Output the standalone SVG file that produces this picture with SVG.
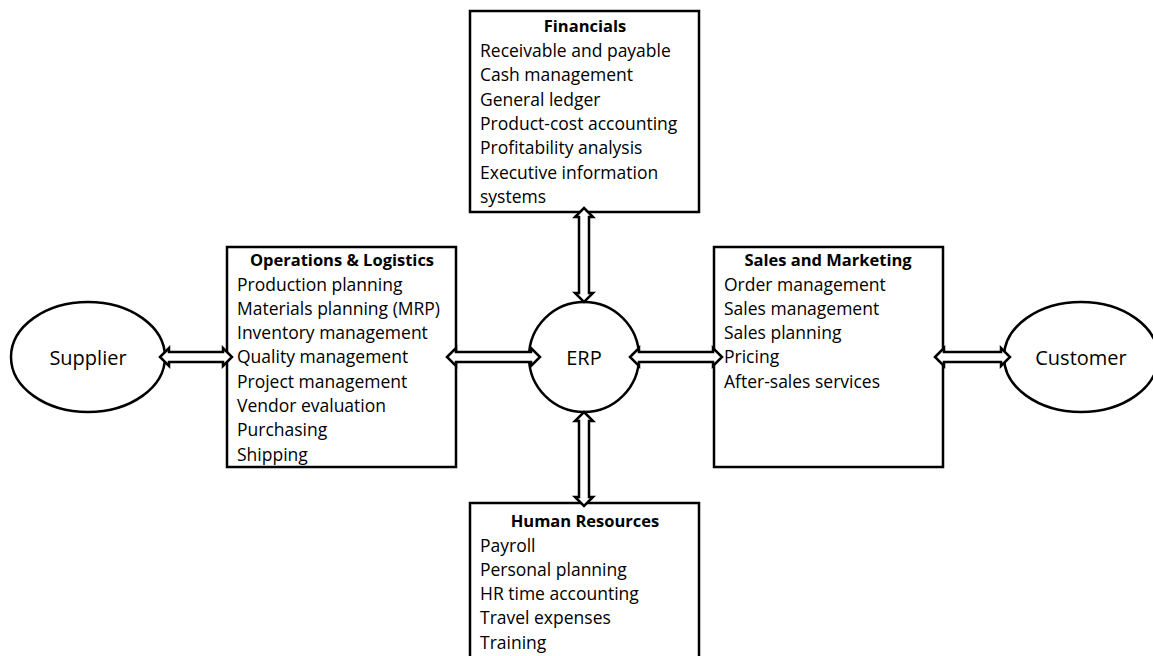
<svg xmlns="http://www.w3.org/2000/svg" width="1153" height="656" viewBox="0 0 1153 656">
  <style>
    .box { fill: #fff; stroke: #000; stroke-width: 2.5; }
    .oval { fill: #fff; stroke: #000; stroke-width: 2.5; }
    .arrow { fill: #fff; stroke: #000; stroke-width: 2.5; stroke-linejoin: miter; }
    text { font-family: "Open Sans", "Noto Sans", sans-serif; fill: #000; }
    .item { font-size: 17.5px; }
    .title { font-size: 16.5px; font-weight: bold; text-anchor: middle; }
    .label { font-size: 20px; text-anchor: middle; dominant-baseline: central; }
  </style>
  <rect width="1153" height="656" fill="#fff"/>

  <g id="supplier">
    <ellipse class="oval" cx="88" cy="357" rx="77" ry="55"/>
    <text class="label" x="88" y="357">Supplier</text>
  </g>

  <g id="customer">
    <ellipse class="oval" cx="1081" cy="357" rx="77" ry="55"/>
    <text class="label" x="1081" y="357">Customer</text>
  </g>

  <g id="erp">
    <circle class="oval" cx="584" cy="357" r="55"/>
    <text class="label" x="584" y="357">ERP</text>
  </g>

  <g id="financials">
    <rect class="box" x="470" y="11" width="229" height="201"/>
    <text class="title" x="585" y="32">Financials</text>
    <text class="item" x="480" y="57">Receivable and payable</text>
    <text class="item" x="480" y="81">Cash management</text>
    <text class="item" x="480" y="106">General ledger</text>
    <text class="item" x="480" y="130">Product-cost accounting</text>
    <text class="item" x="480" y="154">Profitability analysis</text>
    <text class="item" x="480" y="179">Executive information</text>
    <text class="item" x="480" y="203">systems</text>
  </g>

  <g id="operations">
    <rect class="box" x="227" y="247" width="229" height="220"/>
    <text class="title" x="342" y="266">Operations &amp; Logistics</text>
    <text class="item" x="237" y="291">Production planning</text>
    <text class="item" x="237" y="315">Materials planning (MRP)</text>
    <text class="item" x="237" y="339">Inventory management</text>
    <text class="item" x="237" y="363">Quality management</text>
    <text class="item" x="237" y="388">Project management</text>
    <text class="item" x="237" y="412">Vendor evaluation</text>
    <text class="item" x="237" y="436">Purchasing</text>
    <text class="item" x="237" y="461">Shipping</text>
  </g>

  <g id="sales">
    <rect class="box" x="714" y="247" width="229" height="220"/>
    <text class="title" x="828" y="266">Sales and Marketing</text>
    <text class="item" x="724" y="291">Order management</text>
    <text class="item" x="724" y="315">Sales management</text>
    <text class="item" x="724" y="339">Sales planning</text>
    <text class="item" x="724" y="363">Pricing</text>
    <text class="item" x="724" y="388">After-sales services</text>
  </g>

  <g id="human-resources">
    <rect class="box" x="470" y="503" width="229" height="170"/>
    <text class="title" x="585" y="527">Human Resources</text>
    <text class="item" x="480" y="552">Payroll</text>
    <text class="item" x="480" y="576">Personal planning</text>
    <text class="item" x="480" y="600">HR time accounting</text>
    <text class="item" x="480" y="624">Travel expenses</text>
    <text class="item" x="480" y="649">Training</text>
  </g>

  <g id="connectors">
    <!-- Supplier <-> Operations -->
    <polygon class="arrow" points="160,357 169,348 169,352 223,352 223,348 232,357 223,366 223,362 169,362 169,366"/>
    <!-- Operations <-> ERP -->
    <polygon class="arrow" points="447,357 456,348 456,352 531,352 531,348 540,357 531,366 531,362 456,362 456,366"/>
    <!-- ERP <-> Sales -->
    <polygon class="arrow" points="630,357 639,348 639,352 713,352 713,348 722,357 713,366 713,362 639,362 639,366"/>
    <!-- Sales <-> Customer -->
    <polygon class="arrow" points="935,357 944,348 944,352 1001,352 1001,348 1010,357 1001,366 1001,362 944,362 944,366"/>
    <!-- Financials <-> ERP -->
    <polygon class="arrow" points="584,208 593,217 589,217 589,293 593,293 584,302 575,293 579,293 579,217 575,217"/>
    <!-- ERP <-> Human Resources -->
    <polygon class="arrow" points="584,412 593,421 589,421 589,497 593,497 584,506 575,497 579,497 579,421 575,421"/>
  </g>
</svg>
